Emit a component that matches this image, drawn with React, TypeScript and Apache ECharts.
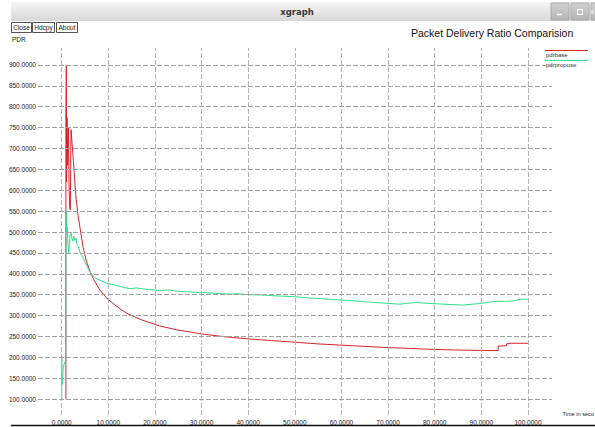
import React, { useEffect, useRef } from "react";
import * as echarts from "echarts";

// pdrbase (red)
const baseT = [0.9, 0.9, 1.0, 1.05, 1.15, 1.3, 1.45, 1.6, 1.7, 1.85, 2.0, 2.5, 3.0, 3.5, 4.0, 4.6, 5.3, 6.1, 7.0, 8.2, 9.5, 11, 12.5, 14, 17, 21, 25, 30, 35, 40, 45, 50, 55, 60, 65, 70, 74, 78, 84, 91, 93.6, 93.6, 95.4, 95.4, 96.5, 100];
const baseV = [100, 780, 900, 620, 775, 660, 750, 600, 560, 553, 745, 672, 590, 540, 505, 463, 430, 405, 383, 361, 343, 329, 316, 305, 290, 275, 265, 256, 249, 244, 240, 236, 232, 229, 226, 223, 221.5, 219.5, 217.5, 216, 216, 227, 227.5, 232, 233.5, 233.5];

// pdrpropose (green)
const propT = [0, 0, 0.1, 0.3, 0.5, 0.8, 0.9, 0.92, 1.0, 1.07, 1.2, 1.35, 1.5, 1.65, 1.8, 2.0, 2.2, 2.4, 2.6, 2.8, 3.07, 3.3, 3.56, 3.9, 4.3, 4.63, 5.3, 6.07, 7.14, 8.5, 9.65, 11, 13, 14.65, 16, 18, 21, 23, 25, 28, 30, 33, 36, 38, 40, 43, 46, 50, 53, 56, 60, 63, 66, 70, 72.5, 74, 76, 79, 82, 86, 88, 90, 92.5, 95, 97, 98.3, 100];
const propV = [100, 200, 135, 172, 183, 190, 192, 548, 528, 498, 512, 470, 448, 470, 492, 500, 485, 478, 490, 480, 485, 468, 465, 452, 445, 437, 420, 405, 390, 383, 377, 374, 368, 364, 366, 363, 360, 361, 358, 356, 355, 353, 351, 352, 350, 349, 347, 345, 342, 340, 337, 335, 332, 329, 327, 329, 331, 329, 327, 325, 327, 329, 333, 334, 335, 339, 339];

const xTicks = [0, 10, 20, 30, 40, 50, 60, 70, 80, 90, 100];
const yTicks = [100, 150, 200, 250, 300, 350, 400, 450, 500, 550, 600, 650, 700, 750, 800, 850, 900];

const FONT = "Liberation Sans, Arial, sans-serif";

export default function App() {
  const ref = useRef<HTMLDivElement>(null);
  useEffect(() => {
    document.body.style.margin = "0";
    const chart = echarts.init(ref.current!, null, { renderer: "svg" });
    const grad = (a: string, b: string) =>
      new echarts.graphic.LinearGradient(0, 0, 0, 1, [
        { offset: 0, color: a },
        { offset: 1, color: b },
      ]);
    const btn = (x: number, w: number, label: string) => [
      { type: "rect", shape: { x, y: 22.5, width: w, height: 10 }, style: { fill: "#fff", stroke: "#555", lineWidth: 1 } },
      { type: "text", x: x + w / 2, y: 27.5, style: { text: label, fontSize: 6.5, fontFamily: FONT, fill: "#222", align: "center", verticalAlign: "middle" } },
    ];
    const gridLine = { silent: true, symbol: ["none", "none"], label: { show: false }, emphasis: { disabled: true } };
    chart.setOption({
      animation: false,
      backgroundColor: "#ffffff",
      grid: { left: 38, right: 43, top: 48, bottom: 12, containLabel: false },
      xAxis: {
        type: "value",
        min: -5.08,
        max: 105.15,
        axisLine: { show: false },
        axisTick: { show: false },
        splitLine: { show: false },
        axisLabel: {
          customValues: xTicks,
          formatter: (v: number) => v.toFixed(4),
          fontSize: 6.5,
          fontFamily: FONT,
          color: "#222",
          margin: 4,
        },
      },
      yAxis: {
        type: "value",
        min: 61.7,
        max: 940.7,
        axisLine: { show: false },
        axisTick: { show: false },
        splitLine: { show: false },
        axisLabel: {
          customValues: yTicks,
          formatter: (v: number) => v.toFixed(4),
          fontSize: 6.5,
          fontFamily: FONT,
          color: "#222",
          margin: 2,
        },
      },
      series: [
        {
          type: "line",
          name: "vgrid",
          data: [],
          z: 1,
          markLine: {
            ...gridLine,
            lineStyle: { color: "#b4b4b4", type: [5, 2], width: 1 },
            data: xTicks.map((v) => ({ xAxis: v })),
          },
        },
        {
          type: "line",
          name: "hgrid",
          data: [],
          z: 1,
          markLine: {
            ...gridLine,
            lineStyle: { color: "#a0a0a0", type: [5, 2], width: 1 },
            data: yTicks.map((v) => ({ yAxis: v })),
          },
        },
        {
          type: "line",
          name: "pdrbase",
          data: baseT.map((t, i) => [t, baseV[i]]),
          showSymbol: false,
          symbol: "none",
          z: 3,
          lineStyle: { color: "#d42626", width: 1 },
        },
        {
          type: "line",
          name: "pdrpropose",
          data: propT.map((t, i) => [t, propV[i]]),
          showSymbol: false,
          symbol: "none",
          z: 4,
          lineStyle: { color: "#2fe08c", width: 1 },
        },
      ],
      graphic: [
        { type: "rect", shape: { x: 11, y: 2, width: 584, height: 19 }, style: { fill: grad("#f5f5f5", "#d8d8d8") } },
        { type: "text", x: 297, y: 11.5, style: { text: "xgraph", fontSize: 8.5, fontWeight: "bold", fontFamily: "DejaVu Sans, sans-serif", fill: "#3a3a3a", align: "center", verticalAlign: "middle" } },
        { type: "rect", shape: { x: 551, y: 3, width: 18, height: 17 }, style: { fill: grad("#d2d2d2", "#b4b4b4"), stroke: "#aaa" } },
        { type: "rect", shape: { x: 571, y: 3, width: 18, height: 17 }, style: { fill: grad("#d2d2d2", "#b4b4b4"), stroke: "#aaa" } },
        { type: "rect", shape: { x: 591, y: 3, width: 18, height: 17 }, style: { fill: grad("#d2d2d2", "#b4b4b4"), stroke: "#aaa" } },
        { type: "line", shape: { x1: 557, y1: 14.5, x2: 562, y2: 14.5 }, style: { stroke: "#fff", lineWidth: 1.5 } },
        { type: "rect", shape: { x: 577.5, y: 9.5, width: 5, height: 5 }, style: { fill: "none", stroke: "#fff", lineWidth: 1 } },
        { type: "text", x: 590.5, y: 11.5, style: { text: "x", fontSize: 7, fontFamily: FONT, fill: "#fff", verticalAlign: "middle" } },
        ...btn(11.5, 20, "Close"),
        ...btn(32.5, 22, "Hdcpy"),
        ...btn(56.5, 21, "About"),
        { type: "text", x: 12, y: 39.5, style: { text: "PDR", fontSize: 6.5, fontFamily: FONT, fill: "#222", verticalAlign: "middle" } },
        { type: "text", x: 411, y: 33, style: { text: "Packet Delivery Ratio Comparision", fontSize: 10.5, fontFamily: FONT, fill: "#111", verticalAlign: "middle" } },
        { type: "line", shape: { x1: 545, y1: 50.5, x2: 588, y2: 50.5 }, style: { stroke: "#d42626", lineWidth: 1 } },
        { type: "text", x: 546, y: 54.5, style: { text: "pdrbase", fontSize: 6, fontFamily: FONT, fill: "#333", verticalAlign: "middle" } },
        { type: "line", shape: { x1: 545, y1: 60.5, x2: 588, y2: 60.5 }, style: { stroke: "#2fe08c", lineWidth: 1 } },
        { type: "text", x: 546, y: 64.5, style: { text: "pdrpropose", fontSize: 6, fontFamily: FONT, fill: "#333", verticalAlign: "middle" } },
        { type: "text", x: 562.5, y: 414, style: { text: "Time in seco", fontSize: 5.6, fontFamily: FONT, fill: "#222", verticalAlign: "middle" } },
        { type: "line", shape: { x1: 11, y1: 425.5, x2: 595, y2: 425.5 }, style: { stroke: "#111", lineWidth: 1.5 } },
      ],
    });
    return () => chart.dispose();
  }, []);
  return <div ref={ref} style={{ width: 595, height: 427, overflow: "hidden", background: "#fff" }} />;
}
